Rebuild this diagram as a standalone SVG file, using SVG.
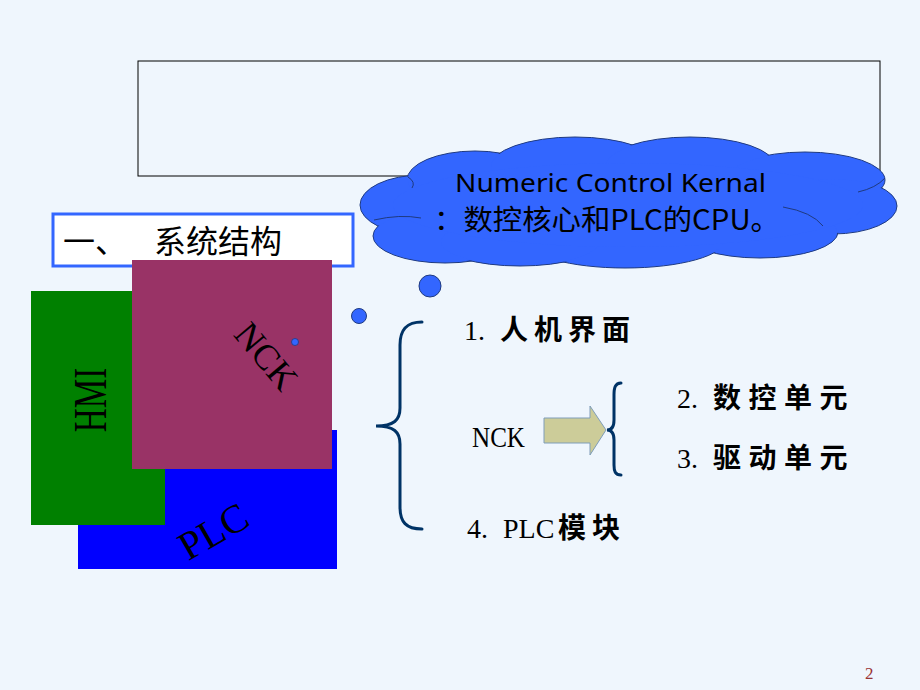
<svg xmlns="http://www.w3.org/2000/svg" width="920" height="690" viewBox="0 0 920 690">
<style>
.serif{font-family:"Liberation Serif","Times New Roman",serif;fill:#000}
.cjk{font-family:"Noto Sans CJK SC","Noto Sans",sans-serif;fill:#000}
.cjkb{font-family:"Noto Sans CJK SC","Noto Sans",sans-serif;font-weight:700;fill:#000}
.lobe{fill:#3366FF;stroke:#1F3A80;stroke-width:1}
.lobefill{fill:#3366FF;stroke:none}
.bubble{fill:#3366FF;stroke:#1F3A80;stroke-width:1}
.brace{fill:none;stroke:#003366;stroke-width:3;stroke-linecap:round}
</style>
<rect x="0" y="0" width="920" height="690" fill="#EFF6FD"/>

<g id="top-box">
<rect x="138" y="61" width="742" height="115" fill="none" stroke="#000" stroke-width="1"/>
</g>

<g id="title">
<rect x="53" y="214" width="300" height="52" fill="#FFFFFF" stroke="#3366FF" stroke-width="3"/>
<text class="cjk" font-size="32" y="253"><tspan x="63">一、</tspan><tspan x="154">系统结构</tspan></text>
</g>

<g id="plc">
<rect x="78" y="430" width="259" height="139" fill="#0000FF"/>
</g>
<g id="hmi">
<rect x="31" y="291" width="134" height="234" fill="#008000"/>
<text class="serif" font-size="46" text-anchor="middle" transform="translate(106,400) rotate(-90) scale(0.72,1)">HMI</text>
</g>
<g id="nck">
<rect x="132" y="260" width="200" height="209" fill="#993366"/>
<text class="serif" font-size="36" text-anchor="middle" transform="translate(257,364) rotate(50)">NCK</text>
<circle cx="295" cy="342" r="3.5" fill="#3366FF" stroke="#1F3A80" stroke-width="0.8"/>
</g>
<g id="plc-label">
<text class="serif" font-size="40" text-anchor="middle" transform="translate(220,543) rotate(-30)">PLC</text>
</g>

<g id="cloud">
<ellipse class="lobe" cx="422" cy="205" rx="62" ry="30"/>
<ellipse class="lobe" cx="445" cy="236" rx="72" ry="27"/>
<ellipse class="lobe" cx="475" cy="180" rx="68" ry="29"/>
<ellipse class="lobe" cx="575" cy="167" rx="85" ry="30"/>
<ellipse class="lobe" cx="690" cy="166" rx="85" ry="29"/>
<ellipse class="lobe" cx="805" cy="180" rx="80" ry="28"/>
<ellipse class="lobe" cx="833" cy="206" rx="64" ry="28"/>
<ellipse class="lobe" cx="760" cy="232" rx="78" ry="26"/>
<ellipse class="lobe" cx="625" cy="240" rx="100" ry="28"/>
<ellipse class="lobe" cx="520" cy="242" rx="80" ry="24"/>
<ellipse class="lobefill" cx="422" cy="205" rx="61" ry="29"/>
<ellipse class="lobefill" cx="445" cy="236" rx="71" ry="26"/>
<ellipse class="lobefill" cx="475" cy="180" rx="67" ry="28"/>
<ellipse class="lobefill" cx="575" cy="167" rx="84" ry="29"/>
<ellipse class="lobefill" cx="690" cy="166" rx="84" ry="28"/>
<ellipse class="lobefill" cx="805" cy="180" rx="79" ry="27"/>
<ellipse class="lobefill" cx="833" cy="206" rx="63" ry="27"/>
<ellipse class="lobefill" cx="760" cy="232" rx="77" ry="25"/>
<ellipse class="lobefill" cx="625" cy="240" rx="99" ry="27"/>
<ellipse class="lobefill" cx="520" cy="242" rx="79" ry="23"/>
<ellipse class="lobefill" cx="628" cy="205" rx="235" ry="42"/>
<path d="M408,177 Q416,182 412,188 M374,220 Q400,214 421,218 M783,207 Q812,212 823,226 M858,192 Q876,188 885,178" fill="none" stroke="#1F3A80" stroke-width="1"/>
<text font-family="'Noto Sans','DejaVu Sans',sans-serif" font-size="26" x="455" y="192" textLength="311" lengthAdjust="spacingAndGlyphs" fill="#000">Numeric Control Kernal</text>
<text class="cjk" font-size="28" x="434" y="230" textLength="346" lengthAdjust="spacingAndGlyphs">：数控核心和PLC的CPU。</text>
</g>

<g id="bubbles">
<circle class="bubble" cx="430" cy="286" r="11"/>
<circle class="bubble" cx="359" cy="316" r="7.5"/>
</g>

<g id="item1">
<text y="340"><tspan class="serif" font-size="28" x="464">1.</tspan><tspan class="cjkb" font-size="28" x="500" letter-spacing="6">人机界面</tspan></text>
</g>
<g id="nck-label">
<text class="serif" font-size="30" x="472" y="447" textLength="53" lengthAdjust="spacingAndGlyphs">NCK</text>
</g>
<g id="item2">
<text y="408"><tspan class="serif" font-size="28" x="677">2.</tspan><tspan class="cjkb" font-size="28" x="713" letter-spacing="7.5">数控单元</tspan></text>
</g>
<g id="item3">
<text y="468"><tspan class="serif" font-size="28" x="677">3.</tspan><tspan class="cjkb" font-size="28" x="713" letter-spacing="7.5">驱动单元</tspan></text>
</g>
<g id="item4">
<text y="538"><tspan class="serif" font-size="28" x="467">4.</tspan><tspan class="serif" font-size="28" x="503">PLC</tspan><tspan class="cjkb" font-size="28" x="558" letter-spacing="6">模块</tspan></text>
</g>

<g id="connectors">
<path class="brace" d="M422,322 C406,322 400,330 400,345 L400,408 C400,420 394,426 376,426 C394,426 400,432 400,444 L400,507 C400,522 406,529 422,529"/>
<path class="brace" d="M621,383 C615,383 614,388 614,395 L614,420 C614,426 612,430 607,430 C612,430 614,434 614,440 L614,465 C614,471 615,475 621,475"/>
<polygon points="544,418 590,418 590,406 606,430 590,455 590,443 544,443" fill="#CCCC99" stroke="#7F9DB9" stroke-width="1"/>
</g>

<g id="page-number">
<text class="serif" font-size="17" x="865" y="679" style="fill:#993333">2</text>
</g>
</svg>
